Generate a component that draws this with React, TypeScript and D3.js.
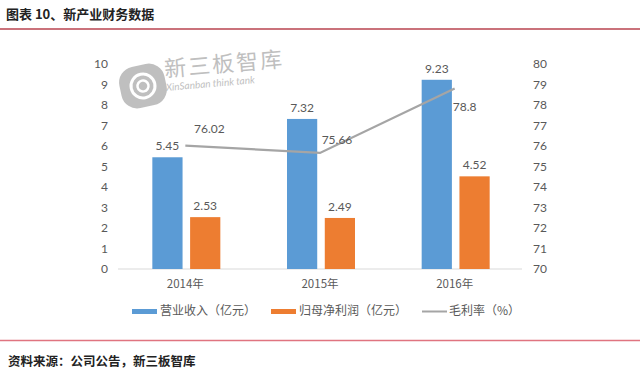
import React from "react";
import * as d3 from "d3";

const years = ["2014年", "2015年", "2016年"];
const revenue = [5.45, 7.32, 9.23];
const profit = [2.53, 2.49, 4.52];
const margin = [76.02, 75.66, 78.8];
const leftTicks = [0, 1, 2, 3, 4, 5, 6, 7, 8, 9, 10];
const rightTicks = [70, 71, 72, 73, 74, 75, 76, 77, 78, 79, 80];
const legendLabels = ["营业收入（亿元）", "归母净利润（亿元）", "毛利率（%）"];
// label placement offsets for line labels (dx, dy)
const marginLabelOffsets = [
  [24, -17],
  [17, -13],
  [10, 18],
];

const W = 640;
const H = 379;
const BLUE = "#5b9bd5";
const ORANGE = "#ed7d31";
const GRAY = "#a5a5a5";
const TEXT = "#595959";
const FONT = "Lato, 'Noto Sans', sans-serif";
const CJK = "'Noto Sans CJK SC', sans-serif";

export default function App() {
  const x = d3.scaleBand<string>().domain(years).range([118, 522]);
  const bw = x.bandwidth();
  const sub = d3
    .scaleBand<string>()
    .domain(["rev", "pro"])
    .range([bw / 2 - 33, bw / 2 + 35])
    .paddingInner(0.2);
  const yL = d3.scaleLinear().domain([0, 10]).range([269, 64]);
  const yR = d3.scaleLinear().domain([70, 80]).range([269, 64]);
  const line = d3
    .line<number>()
    .x((_, i) => (x(years[i]) as number) + bw / 2)
    .y((d) => yR(d));

  return (
    <svg
      width={W}
      height={H}
      style={{ position: "absolute", left: 0, top: 0, background: "#fff" }}
    >
      <rect width={W} height={H} fill="#fff" />
      {/* title */}
      <text
        x={6}
        y={19}
        fontFamily={CJK}
        fontWeight="bold"
        fontSize={13}
        fill="#222"
      >
        图表 10、新产业财务数据
      </text>
      <line x1={0} x2={W} y1={29} y2={29} stroke="#b8434f" strokeWidth={1.5} />

      {/* watermark */}
      <g opacity={0.55}>
        <g transform="translate(143,86) rotate(-12)">
          <rect x={-23} y={-21} width={46} height={42} rx={16} fill="#8c8c8c" />
          <circle r={12} fill="none" stroke="#fff" strokeWidth={3} />
          <circle r={5.5} fill="none" stroke="#fff" strokeWidth={2.5} />
        </g>
        <g transform="translate(165,77) rotate(-5)">
          <text fontFamily={CJK} fontSize={22} fill="#8c8c8c" letterSpacing={2}>
            新三板智库
          </text>
          <text
            y={14}
            fontFamily={FONT}
            fontSize={10}
            fontStyle="italic"
            fill="#8c8c8c"
          >
            XinSanban think tank
          </text>
        </g>
      </g>

      {/* baseline */}
      <line x1={118} x2={522} y1={yL(0)} y2={yL(0)} stroke="#d9d9d9" strokeWidth={1} />

      {/* left axis */}
      {leftTicks.map((t) => (
        <text
          key={"l" + t}
          x={108}
          y={yL(t)}
          dy="0.35em"
          textAnchor="end"
          fontFamily={FONT}
          fontSize={12}
          fill={TEXT}
        >
          {t}
        </text>
      ))}
      {/* right axis */}
      {rightTicks.map((t) => (
        <text
          key={"r" + t}
          x={533}
          y={yR(t)}
          dy="0.35em"
          textAnchor="start"
          fontFamily={FONT}
          fontSize={12}
          fill={TEXT}
        >
          {t}
        </text>
      ))}

      {/* bars */}
      {years.map((yr, i) => {
        const x0 = x(yr) as number;
        const xr = x0 + (sub("rev") as number);
        const xp = x0 + (sub("pro") as number);
        const sw = sub.bandwidth();
        return (
          <g key={yr}>
            <rect x={xr} y={yL(revenue[i])} width={sw} height={yL(0) - yL(revenue[i])} fill={BLUE} />
            <rect x={xp} y={yL(profit[i])} width={sw} height={yL(0) - yL(profit[i])} fill={ORANGE} />
            <text x={xr + sw / 2} y={yL(revenue[i]) - 7} textAnchor="middle" fontFamily={FONT} fontSize={12} fill={TEXT}>
              {revenue[i].toFixed(2)}
            </text>
            <text x={xp + sw / 2} y={yL(profit[i]) - 7} textAnchor="middle" fontFamily={FONT} fontSize={12} fill={TEXT}>
              {profit[i].toFixed(2)}
            </text>
            <text x={x0 + bw / 2} y={288} textAnchor="middle" fontFamily={CJK} fontSize={11.5} fill={TEXT}>
              {yr}
            </text>
          </g>
        );
      })}

      {/* line */}
      <path d={line(margin) as string} fill="none" stroke={GRAY} strokeWidth={2.25} />
      {margin.map((m, i) => (
        <text
          key={"m" + i}
          x={(x(years[i]) as number) + bw / 2 + marginLabelOffsets[i][0]}
          y={yR(m) + marginLabelOffsets[i][1]}
          dy="0.35em"
          textAnchor="middle"
          fontFamily={FONT}
          fontSize={12}
          fill={TEXT}
        >
          {String(m)}
        </text>
      ))}

      {/* legend */}
      <rect x={132} y={309} width={25} height={5} fill={BLUE} />
      <text x={160} y={311} dy="0.35em" fontFamily={CJK} fontSize={12} fill={TEXT}>
        {legendLabels[0]}
      </text>
      <rect x={271} y={309} width={25} height={5} fill={ORANGE} />
      <text x={299} y={311} dy="0.35em" fontFamily={CJK} fontSize={12} fill={TEXT}>
        {legendLabels[1]}
      </text>
      <line x1={422} x2={447} y1={311.5} y2={311.5} stroke={GRAY} strokeWidth={2} />
      <text x={449} y={311} dy="0.35em" fontFamily={CJK} fontSize={12} fill={TEXT}>
        {legendLabels[2]}
      </text>

      {/* footer */}
      <line x1={0} x2={W} y1={340.5} y2={340.5} stroke="#e07480" strokeWidth={1.5} />
      <text x={8} y={366} fontFamily={CJK} fontWeight="bold" fontSize={12.5} fill="#222">
        资料来源：公司公告，新三板智库
      </text>
    </svg>
  );
}
